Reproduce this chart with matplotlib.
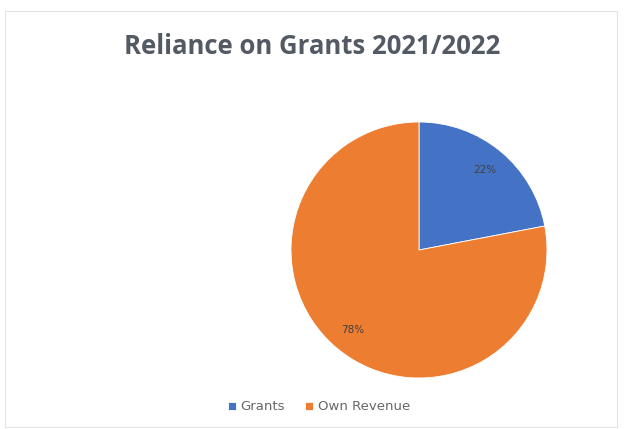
import matplotlib.pyplot as plt
from matplotlib.patches import Rectangle

categories = ["Grants", "Own Revenue"]
shares = [22, 78]
colors = ["#4472C4", "#ED7D31"]

W, H = 624, 429
fig = plt.figure(figsize=(W / 100, H / 100), dpi=100)
fig.patch.set_facecolor("white")

# faint chart-area frame
fig.add_artist(Rectangle((5 / W, 2 / H), 612 / W, 416 / H, transform=fig.transFigure,
                         fill=False, edgecolor="#e4e4e4", linewidth=0.8))

fig.text(0.5, 1 - 46 / H, "Reliance on Grants 2021/2022", ha="center", va="center",
         fontsize=18.5, fontweight="bold", color="#535a63", family="Open Sans")

cx, cy, r = 419, 250, 128
ax = fig.add_axes([(cx - r) / W, (H - cy - r) / H, 2 * r / W, 2 * r / H])
wedges, _, autotexts = ax.pie(shares, colors=colors, startangle=90, counterclock=False,
                              autopct="%d%%", pctdistance=0.81,
                              textprops=dict(fontsize=7.5, color="#404040"),
                              wedgeprops=dict(linewidth=0.6, edgecolor="white"))
ax.set_xlim(-1, 1)
ax.set_ylim(-1, 1)
ax.set_aspect("equal")

fig.legend(wedges, categories, loc="center", bbox_to_anchor=(319 / W, 1 - 407 / H),
           ncol=2, frameon=False, fontsize=9.5, handlelength=0.6, handleheight=0.6,
           handletextpad=0.35, columnspacing=1.5, labelcolor="#666666")

fig.savefig("out.png", dpi=100)
